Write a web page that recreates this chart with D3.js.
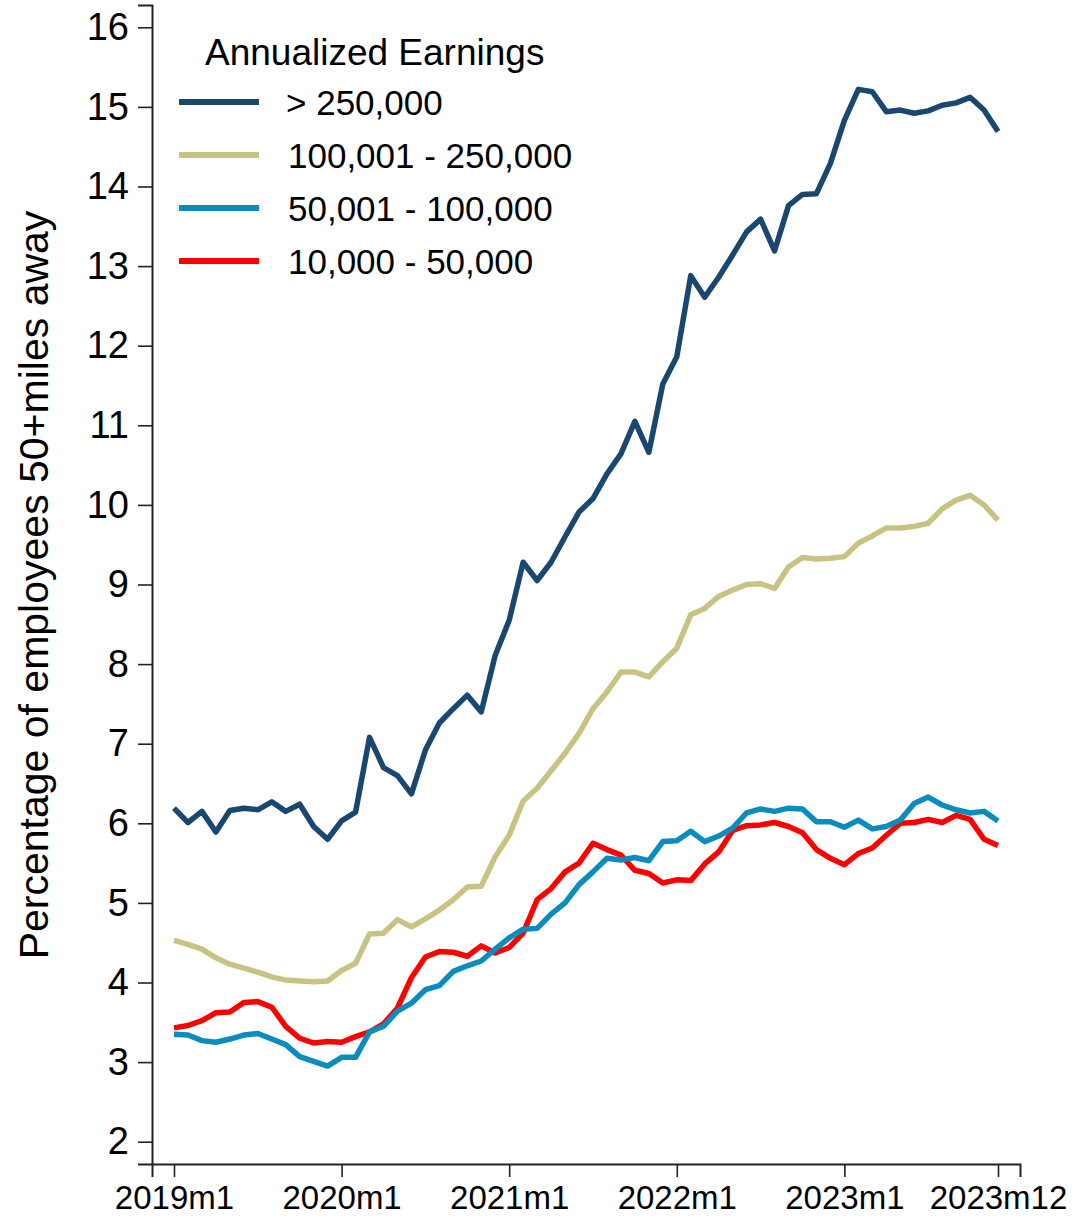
<!DOCTYPE html>
<html><head><meta charset="utf-8">
<script src="https://cdn.jsdelivr.net/npm/d3@7"></script>
<style>
html,body{margin:0;padding:0;background:#fff;}
text{font-family:"Liberation Sans",Arial,Helvetica,sans-serif;fill:#000;}
</style></head>
<body><svg id="c" width="1077" height="1220"></svg>
<script>
// month index 0 = 2019m1 ... 59 = 2023m12
const tickIdx = [0, 12, 24, 36, 48, 59];
const tickLabels = ["2019m1", "2020m1", "2021m1", "2022m1", "2023m1", "2023m12"];
const yTicks = [2,3,4,5,6,7,8,9,10,11,12,13,14,15,16];

const seriesNames = ["> 250,000", "100,001 - 250,000", "50,001 - 100,000", "10,000 - 50,000"];
const seriesColors = ["#1a476f", "#c9c383", "#0a8cbf", "#ff0000"];

const over250k = [6.19,6.01,6.15,5.89,6.16,6.19,6.17,6.27,6.15,6.24,5.96,5.80,
  6.03,6.14,7.08,6.70,6.60,6.37,6.92,7.26,7.44,7.61,7.40,8.11,
  8.55,9.28,9.05,9.28,9.60,9.91,10.08,10.39,10.64,11.05,10.66,11.52,
  11.86,12.88,12.61,12.86,13.14,13.43,13.59,13.19,13.76,13.90,13.91,14.29,
  14.83,15.22,15.19,14.94,14.96,14.92,14.95,15.02,15.05,15.12,14.96,14.69];
const k100to250 = [4.53,4.48,4.42,4.31,4.23,4.18,4.13,4.07,4.03,4.02,4.01,4.02,
  4.15,4.24,4.61,4.62,4.79,4.70,4.80,4.91,5.04,5.20,5.21,5.58,
  5.85,6.28,6.44,6.66,6.88,7.13,7.44,7.65,7.90,7.90,7.84,8.03,
  8.20,8.62,8.70,8.85,8.93,9.00,9.01,8.95,9.22,9.34,9.32,9.33,
  9.35,9.52,9.61,9.71,9.71,9.73,9.77,9.95,10.06,10.12,10.00,9.81];
const k50to100 = [3.35,3.34,3.27,3.25,3.29,3.34,3.36,3.29,3.22,3.07,3.01,2.95,
  3.06,3.06,3.38,3.45,3.64,3.74,3.91,3.96,4.14,4.21,4.27,4.42,
  4.56,4.67,4.68,4.86,5.00,5.23,5.39,5.56,5.54,5.57,5.53,5.77,
  5.78,5.90,5.77,5.84,5.94,6.13,6.18,6.15,6.19,6.18,6.02,6.02,
  5.95,6.04,5.93,5.96,6.04,6.25,6.33,6.23,6.17,6.13,6.15,6.03];
const k10to50 = [3.43,3.46,3.52,3.62,3.63,3.75,3.76,3.69,3.45,3.30,3.24,3.26,
  3.25,3.32,3.38,3.48,3.68,4.06,4.32,4.39,4.38,4.33,4.46,4.37,
  4.44,4.62,5.04,5.18,5.39,5.50,5.75,5.67,5.60,5.41,5.37,5.25,
  5.29,5.28,5.49,5.64,5.91,5.97,5.98,6.01,5.96,5.88,5.67,5.56,
  5.48,5.62,5.69,5.85,6.00,6.01,6.05,6.01,6.10,6.05,5.80,5.72];

const seriesData = [over250k, k100to250, k50to100, k10to50];

const svg = d3.select("#c");
const x = d3.scaleLinear().domain([-1.575, 60.575]).range([152, 1020]);
const y = d3.scaleLinear().domain([1.72, 16.28]).range([1164, 5]);

// Y axis
const gy = svg.append("g").attr("transform", "translate(152,0)")
  .call(d3.axisLeft(y).tickValues(yTicks).tickSize(14).tickPadding(9).tickFormat(d3.format("d")));
gy.select(".domain").attr("stroke", "#222").attr("stroke-width", 2);
gy.selectAll(".tick line").attr("stroke", "#222").attr("stroke-width", 1.6);
gy.selectAll(".tick text").attr("font-size", 38).attr("fill", "#000")
  .attr("font-family", "Liberation Sans, Arial, sans-serif");

// X axis
const gx = svg.append("g").attr("transform", "translate(0,1164)")
  .call(d3.axisBottom(x).tickValues(tickIdx).tickSize(13).tickPadding(9)
    .tickFormat((d, i) => tickLabels[i]));
gx.select(".domain").attr("stroke", "#222").attr("stroke-width", 2);
gx.selectAll(".tick line").attr("stroke", "#222").attr("stroke-width", 1.6);
gx.selectAll(".tick text").attr("font-size", 33).attr("fill", "#000")
  .attr("font-family", "Liberation Sans, Arial, sans-serif");

// Y axis title
svg.append("text")
  .attr("transform", "translate(48,585) rotate(-90)")
  .attr("text-anchor", "middle")
  .attr("font-size", 41)
  .text("Percentage of employees 50+miles away");

// Lines (draw lowest series first)
const line = d3.line().x((d, i) => x(i)).y(d => y(d));
[3, 2, 1, 0].forEach(s => {
  svg.append("path")
    .datum(seriesData[s])
    .attr("fill", "none")
    .attr("stroke", seriesColors[s])
    .attr("stroke-width", 5.5)
    .attr("stroke-linejoin", "round")
    .attr("d", line);
});

// Legend
svg.append("text").attr("x", 205).attr("y", 65).attr("font-size", 37).text("Annualized Earnings");
const legY = [102, 155, 208, 261];
seriesNames.forEach((n, i) => {
  svg.append("line").attr("x1", 179).attr("x2", 259).attr("y1", legY[i]).attr("y2", legY[i])
    .attr("stroke", seriesColors[i]).attr("stroke-width", 6);
  svg.append("text").attr("x", i === 0 ? 286 : 288).attr("y", legY[i] + 13)
    .attr("font-size", 35).text(n);
});
</script></body></html>
